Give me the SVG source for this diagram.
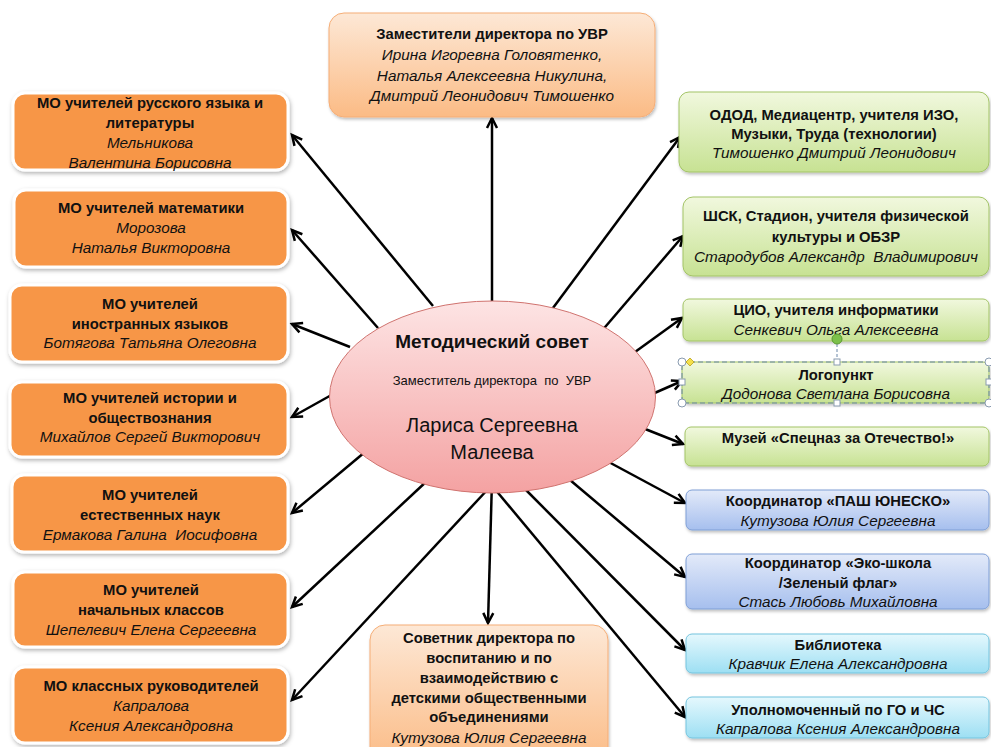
<svg xmlns="http://www.w3.org/2000/svg" width="991" height="747" viewBox="0 0 991 747">
<style>
text{font-family:"Liberation Sans",Arial,sans-serif;fill:#111;text-anchor:middle}
.b{font-weight:bold;font-size:14.8px}
.i{font-style:italic;font-size:15.3px}
.lb{fill:#f79646;stroke:#fff;stroke-width:3;filter:url(#sh)}
.gr{fill:url(#gG);stroke:#a3c466;stroke-width:1;filter:url(#sh2)}
.bl{fill:url(#gB);stroke:#7f9fd6;stroke-width:1;filter:url(#sh2)}
.cy{fill:url(#gC);stroke:#74c4de;stroke-width:1;filter:url(#sh2)}
.or{fill:url(#gO);stroke:#f5ad76;stroke-width:1;filter:url(#sh2)}
.ln{stroke:#000;stroke-width:2.5;fill:none;marker-end:url(#ar)}
.hd{fill:#fff;stroke:#8a9bb0;stroke-width:1}
</style>
<defs>
<marker id="ar" markerUnits="userSpaceOnUse" markerWidth="14" markerHeight="14" refX="11" refY="6" orient="auto" viewBox="0 0 14 12">
<path d="M1,1 L11,6 L1,11" fill="none" stroke="#000" stroke-width="2.5"/>
</marker>
<filter id="sh" x="-10%" y="-20%" width="120%" height="150%">
<feDropShadow dx="1" dy="2" stdDeviation="2" flood-color="#000" flood-opacity="0.3"/>
</filter>
<filter id="sh2" x="-10%" y="-20%" width="120%" height="150%">
<feDropShadow dx="1" dy="2" stdDeviation="1.5" flood-color="#000" flood-opacity="0.25"/>
</filter>
<linearGradient id="gG" x1="0" y1="0" x2="0" y2="1"><stop offset="0" stop-color="#f1f8de"/><stop offset="1" stop-color="#c7e293"/></linearGradient>
<linearGradient id="gB" x1="0" y1="0" x2="0" y2="1"><stop offset="0" stop-color="#e3eaf9"/><stop offset="1" stop-color="#a6bfee"/></linearGradient>
<linearGradient id="gC" x1="0" y1="0" x2="0" y2="1"><stop offset="0" stop-color="#e5f8fd"/><stop offset="1" stop-color="#9ddff3"/></linearGradient>
<linearGradient id="gO" x1="0" y1="0" x2="0" y2="1"><stop offset="0" stop-color="#fde8d6"/><stop offset="1" stop-color="#fbbb85"/></linearGradient>
<linearGradient id="gE" x1="0" y1="0" x2="0" y2="1"><stop offset="0" stop-color="#fde4e4"/><stop offset="1" stop-color="#f4a2a2"/></linearGradient>
</defs>

<g id="connectors">
<line class="ln" x1="492" y1="320" x2="492" y2="118"/>
<line class="ln" x1="433" y1="306" x2="292" y2="135"/>
<line class="ln" x1="378" y1="328" x2="292" y2="230"/>
<line class="ln" x1="350" y1="347" x2="292" y2="324"/>
<line class="ln" x1="335" y1="393" x2="292" y2="417"/>
<line class="ln" x1="365" y1="452" x2="292" y2="513"/>
<line class="ln" x1="428" y1="480" x2="292" y2="607"/>
<line class="ln" x1="489" y1="488" x2="292" y2="700"/>
<line class="ln" x1="492" y1="480" x2="488" y2="623"/>
<line class="ln" x1="550" y1="312" x2="680" y2="137"/>
<line class="ln" x1="600" y1="333" x2="683" y2="236"/>
<line class="ln" x1="635" y1="352" x2="682" y2="318"/>
<line class="ln" x1="650" y1="395" x2="682" y2="381"/>
<line class="ln" x1="635" y1="425" x2="683" y2="444"/>
<line class="ln" x1="605" y1="460" x2="685" y2="503"/>
<line class="ln" x1="570" y1="480" x2="685" y2="577"/>
<line class="ln" x1="524" y1="488" x2="685" y2="650"/>
<line class="ln" x1="494" y1="488" x2="685" y2="717"/>
</g>

<g id="center">
<ellipse cx="492.5" cy="397" rx="163" ry="96" fill="url(#gE)" stroke="#d0736f" stroke-width="1"/>
<text x="492" y="348" style="font-weight:bold;font-size:19px">Методический совет</text>
<text x="492" y="385" style="font-size:13px" xml:space="preserve">Заместитель директора  по  УВР</text>
<text x="492" y="432" style="font-size:20px">Лариса Сергеевна</text>
<text x="492" y="459" style="font-size:20px">Малеева</text>
</g>

<g id="top">
<rect class="or" x="329" y="13" width="326" height="104" rx="15"/>
<text class="b" x="492" y="39">Заместители директора по УВР</text>
<text class="i" x="492" y="60">Ирина Игоревна Головятенко,</text>
<text class="i" x="492" y="81">Наталья Алексеевна Никулина,</text>
<text class="i" x="492" y="101">Дмитрий Леонидович Тимошенко</text>
</g>

<g id="bottom">
<rect class="or" x="370" y="625" width="238" height="140" rx="15"/>
<text class="b" x="489" y="643">Советник директора по</text>
<text class="b" x="489" y="663">воспитанию и по</text>
<text class="b" x="489" y="683">взаимодействию с</text>
<text class="b" x="489" y="703">детскими общественными</text>
<text class="b" x="489" y="722">объединениями</text>
<text class="i" x="489" y="743">Кутузова Юлия Сергеевна</text>
</g>

<g id="mo-russian">
<rect class="lb" x="13" y="93" width="275" height="77" rx="12"/>
<text class="b" x="150" y="108">МО учителей русского языка и</text>
<text class="b" x="150" y="128">литературы</text>
<text class="i" x="150" y="148">Мельникова</text>
<text class="i" x="150" y="168">Валентина Борисовна</text>
</g>
<g id="mo-math">
<rect class="lb" x="14" y="190" width="274" height="77" rx="12"/>
<text class="b" x="151" y="213">МО учителей математики</text>
<text class="i" x="151" y="233">Морозова</text>
<text class="i" x="151" y="253">Наталья Викторовна</text>
</g>
<g id="mo-foreign">
<rect class="lb" x="10" y="285" width="278" height="77" rx="12"/>
<text class="b" x="150" y="309">МО учителей</text>
<text class="b" x="150" y="329">иностранных языков</text>
<text class="i" x="150" y="348">Ботягова Татьяна Олеговна</text>
</g>
<g id="mo-history">
<rect class="lb" x="10" y="382" width="278" height="75" rx="12"/>
<text class="b" x="150" y="403">МО учителей истории и</text>
<text class="b" x="150" y="423">обществознания</text>
<text class="i" x="150" y="442">Михайлов Сергей Викторович</text>
</g>
<g id="mo-science">
<rect class="lb" x="12" y="475" width="276" height="77" rx="12"/>
<text class="b" x="150" y="500">МО учителей</text>
<text class="b" x="150" y="520">естественных наук</text>
<text class="i" x="150" y="540" xml:space="preserve">Ермакова Галина  Иосифовна</text>
</g>
<g id="mo-primary">
<rect class="lb" x="13" y="572" width="275" height="75" rx="12"/>
<text class="b" x="151" y="595">МО учителей</text>
<text class="b" x="151" y="615">начальных классов</text>
<text class="i" x="151" y="635">Шепелевич Елена Сергеевна</text>
</g>
<g id="mo-class">
<rect class="lb" x="13" y="667" width="275" height="76" rx="12"/>
<text class="b" x="151" y="691">МО классных руководителей</text>
<text class="i" x="151" y="711">Капралова</text>
<text class="i" x="151" y="731">Ксения Александровна</text>
</g>

<g id="odod">
<rect class="gr" x="679" y="92" width="310" height="80" rx="10"/>
<text class="b" x="834" y="120">ОДОД, Медиацентр, учителя ИЗО,</text>
<text class="b" x="834" y="139">Музыки, Труда (технологии)</text>
<text class="i" x="834" y="158">Тимошенко Дмитрий Леонидович</text>
</g>
<g id="shsk">
<rect class="gr" x="683" y="197" width="306" height="79" rx="10"/>
<text class="b" x="836" y="221">ШСК, Стадион, учителя физической</text>
<text class="b" x="836" y="242">культуры и ОБЗР</text>
<text class="i" x="836" y="262" xml:space="preserve">Стародубов Александр  Владимирович</text>
</g>
<g id="cio">
<rect class="gr" x="683" y="299" width="306" height="42" rx="6"/>
<text class="b" x="836" y="315">ЦИО, учителя информатики</text>
<text class="i" x="836" y="335">Сенкевич Ольга Алексеевна</text>
</g>
<g id="logopunkt">
<rect class="gr" x="682" y="362" width="307" height="41" rx="6"/>
<text class="b" x="836" y="380">Логопункт</text>
<text class="i" x="836" y="399">Додонова Светлана Борисовна</text>
<rect x="682" y="362" width="307" height="41" fill="none" stroke="#6b87a8" stroke-width="1" stroke-dasharray="5,3"/>
<line x1="837" y1="344" x2="837" y2="358" stroke="#6b87a8" stroke-width="1" stroke-dasharray="3,2"/>
<circle cx="837" cy="339" r="5" fill="#7cc04a" stroke="#5a9a30" stroke-width="1"/>
<circle class="hd" cx="682" cy="362" r="4"/>
<circle class="hd" cx="989" cy="362" r="4"/>
<circle class="hd" cx="682" cy="403" r="4"/>
<circle class="hd" cx="989" cy="403" r="4"/>
<rect class="hd" x="834" y="359" width="6" height="6"/>
<rect class="hd" x="834" y="400" width="6" height="6"/>
<rect class="hd" x="679" y="379" width="6" height="6"/>
<rect class="hd" x="986" y="379" width="6" height="6"/>
<path d="M690,358 L694,362 L690,366 L686,362 Z" fill="#f5e04a" stroke="#b8a020" stroke-width="0.8"/>
</g>
<g id="museum">
<rect class="gr" x="685" y="427" width="304" height="39" rx="6"/>
<text class="b" x="838" y="443">Музей «Спецназ за Отечество!»</text>
</g>
<g id="pash">
<rect class="bl" x="686" y="490" width="303" height="40" rx="6"/>
<text class="b" x="838" y="506">Координатор «ПАШ ЮНЕСКО»</text>
<text class="i" x="838" y="526">Кутузова Юлия Сергеевна</text>
</g>
<g id="eco">
<rect class="bl" x="686" y="554" width="303" height="55" rx="6"/>
<text class="b" x="838" y="568">Координатор «Эко-школа</text>
<text class="b" x="838" y="588">/Зеленый флаг»</text>
<text class="i" x="838" y="607">Стась Любовь Михайловна</text>
</g>
<g id="library">
<rect class="cy" x="686" y="634" width="303" height="39" rx="6"/>
<text class="b" x="838" y="650">Библиотека</text>
<text class="i" x="838" y="669">Кравчик Елена Александровна</text>
</g>
<g id="go">
<rect class="cy" x="686" y="697" width="303" height="41" rx="6"/>
<text class="b" x="838" y="715">Уполномоченный по ГО и ЧС</text>
<text class="i" x="838" y="734">Капралова Ксения Александровна</text>
</g>
</svg>
